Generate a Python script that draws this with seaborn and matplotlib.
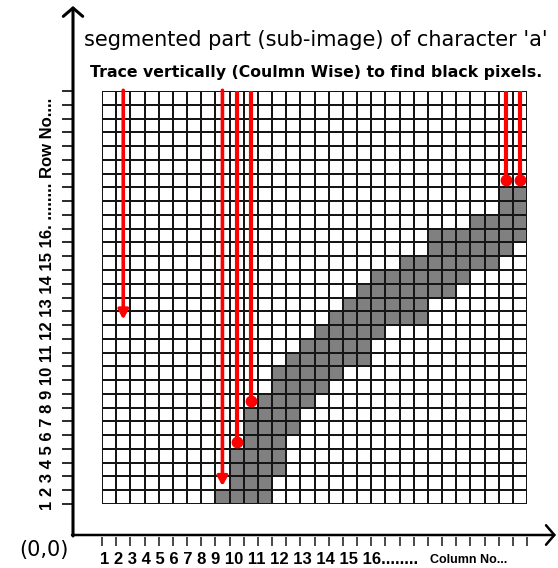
import numpy as np
import pandas as pd
import matplotlib
matplotlib.use('Agg')
import matplotlib.pyplot as plt
from matplotlib.colors import ListedColormap
import seaborn as sns

# the segmented sub-image is a 30 x 30 pixel grid
n_rows = 30
n_cols = 30

# black pixels of the character, per row (row 1 = bottom row)
black_rows = list(range(1, 24))
first_col = [9, 10, 10, 10, 11, 11, 11, 12, 13, 13, 14, 15, 16, 17, 18, 19, 20, 22, 24, 24, 27, 29, 29]
last_col = [12, 12, 13, 13, 13, 14, 14, 15, 16, 17, 19, 19, 20, 23, 23, 25, 26, 28, 29, 30, 30, 30, 30]

# column wise traces: column, row (from bottom) where the trace stops, how it ends
trace_cols = [2, 9, 10, 11, 29, 30]
trace_stop = [13.4, 1.3, 4.5, 7.5, 23.5, 23.5]
trace_end = ['arrow', 'arrow', 'dot', 'dot', 'dot', 'dot']

title = "segmented part (sub-image) of character 'a'"
subtitle = 'Trace vertically (Coulmn Wise) to find black pixels.'
col_numbers = '1 2 3 4 5 6 7 8 9 10 11 12 13 14 15 16........'
col_name = 'Column No...'
row_numbers = '1 2 3 4 5 6 7 8 9 10 11 12 13 14 15 16. ........'
row_name = 'Row No....'
origin = '(0,0)'

grid = np.zeros((n_rows, n_cols))
for r, c0, c1 in zip(black_rows, first_col, last_col):
    grid[n_rows - r, c0 - 1:c1] = 1
df = pd.DataFrame(grid, index=range(n_rows, 0, -1), columns=range(1, n_cols + 1))

W, H = 558, 568
gx0, gx1, gy0, gy1 = 102, 527, 91, 504   # grid box in pixels
fig = plt.figure(figsize=(W / 100, H / 100), dpi=100)
fig.patch.set_facecolor('white')

ax = fig.add_axes([gx0 / W, 1 - gy1 / H, (gx1 - gx0) / W, (gy1 - gy0) / H])
sns.heatmap(df, ax=ax, cmap=ListedColormap(['white', '#808080']), vmin=0, vmax=1,
            cbar=False, linewidths=1.2, linecolor='#151515',
            xticklabels=False, yticklabels=False)
ax.tick_params(length=0)

# red traces down the columns
for c, s, e in zip(trace_cols, trace_stop, trace_end):
    x = c - 0.5
    y_end = n_rows - s
    if e == 'dot':
        ax.plot([x, x], [-0.05, y_end], color='red', lw=3, solid_capstyle='butt', zorder=5)
        ax.plot(x, y_end, 'o', color='red', ms=7.5, zorder=6)
    else:
        ax.annotate('', xy=(x, y_end), xytext=(x, -0.05),
                    arrowprops=dict(arrowstyle='-|>,head_length=0.55,head_width=0.3',
                                    color='red', lw=2.6, shrinkA=0, shrinkB=0),
                    zorder=6)

# hand drawn axes in pixel units on an overlay
deco = fig.add_axes([0, 0, 1, 1], zorder=-1)
deco.set_xlim(0, W)
deco.set_ylim(H, 0)
deco.axis('off')
ax_x, ax_y = 73, 535
deco.annotate('', xy=(ax_x, 6), xytext=(ax_x, ax_y + 1),
              arrowprops=dict(arrowstyle='->,head_length=0.6,head_width=0.7',
                              color='black', lw=2.2, shrinkA=0, shrinkB=0))
deco.annotate('', xy=(556, ax_y), xytext=(ax_x - 1, ax_y),
              arrowprops=dict(arrowstyle='->,head_length=0.6,head_width=0.7',
                              color='black', lw=1.8, shrinkA=0, shrinkB=0))
row_ticks = np.linspace(gy0, gy1, n_rows + 1)
col_ticks = np.linspace(gx0, gx1, n_cols + 1)
deco.hlines(row_ticks, ax_x - 11, ax_x, color='#2a2a2a', lw=1.4)
deco.vlines(col_ticks, ax_y + 2, ax_y + 11, color='#2a2a2a', lw=1.2)

fam = ['Liberation Sans', 'DejaVu Sans']
fig.text(316 / W, 1 - 40 / H, title, ha='center', va='center', fontsize=15,
         family='DejaVu Sans')
fig.text(316 / W, 1 - 72 / H, subtitle, ha='center', va='center', fontsize=11.3,
         fontweight='bold', family='DejaVu Sans')
fig.text(100 / W, 1 - 559 / H, col_numbers, ha='left', va='center', fontsize=12,
         fontweight='bold', family=fam)
fig.text(430 / W, 1 - 560 / H, col_name, ha='left', va='center', fontsize=9,
         fontweight='bold', family=fam)
fig.text(48 / W, 1 - 510 / H, row_numbers + ' ' + row_name, ha='center', va='bottom',
         rotation=90, fontsize=12, fontweight='bold', family=fam)
fig.text(44 / W, 1 - 550 / H, origin, ha='center', va='center', fontsize=15,
         family='DejaVu Sans')

fig.savefig('out.png', dpi=100, facecolor='white')
